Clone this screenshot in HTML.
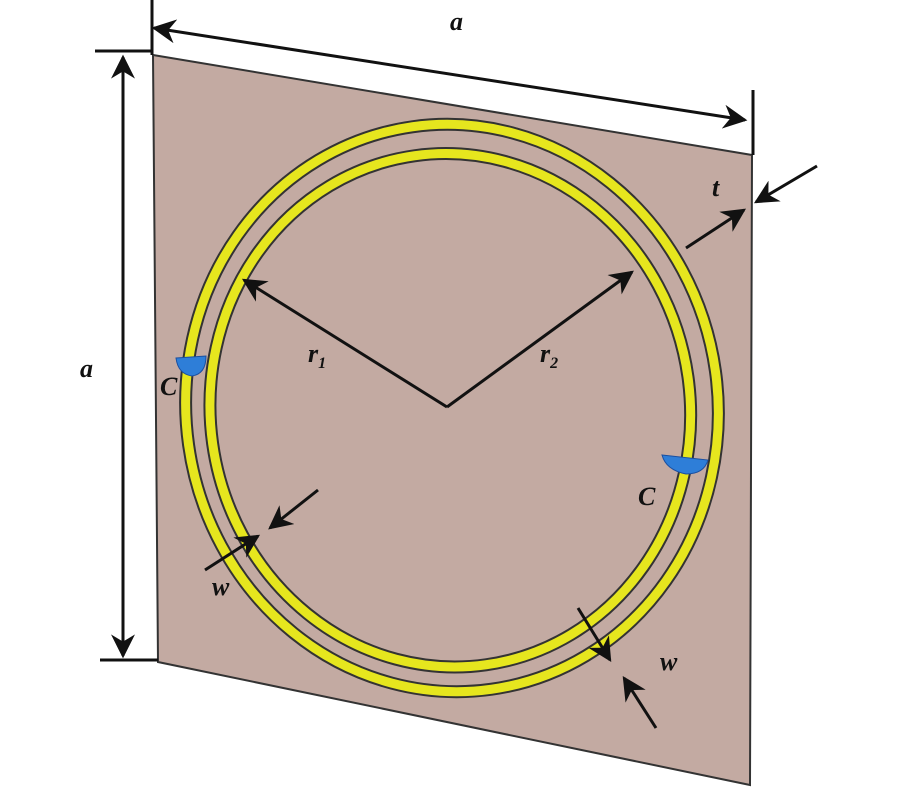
<!DOCTYPE html>
<html><head><style>body{margin:0;background:#fff}svg{display:block}</style></head><body>
<svg width="900" height="800" viewBox="0 0 900 800" xmlns="http://www.w3.org/2000/svg">
<defs><marker id="ah" viewBox="0 0 10 10" refX="9" refY="5" markerWidth="8" markerHeight="8" orient="auto-start-reverse"><path d="M0,0 L10,5 L0,10 L3,5 z" fill="#111"/></marker></defs>
<polygon points="153,55 752,155 750,785 158,662" fill="#c3aaa2" stroke="#333" stroke-width="2"/>
<g transform="rotate(-8 452 408)" fill="none">
<ellipse cx="452" cy="408" rx="266" ry="284" stroke="#333" stroke-width="13"/>
<ellipse cx="452" cy="408" rx="266" ry="284" stroke="#e6e61e" stroke-width="9"/>
<ellipse cx="450" cy="410" rx="240" ry="257" stroke="#333" stroke-width="13"/>
<ellipse cx="450" cy="410" rx="240" ry="257" stroke="#e6e61e" stroke-width="9"/>
</g>
<path d="M176,358 L206,356 Q206,374 192,376 Q178,374 176,358z" fill="#2e7ed8" stroke="#1a4fa0"/>
<path d="M662,455 L708,460 Q704,474 686,474 Q666,470 662,455z" fill="#2e7ed8" stroke="#1a4fa0"/>
<g stroke="#111" stroke-width="3" fill="none">
<line x1="152" y1="0" x2="152" y2="55"/><line x1="753" y1="90" x2="753" y2="155"/>
<line x1="154" y1="28" x2="745" y2="120" marker-start="url(#ah)" marker-end="url(#ah)"/>
<line x1="95" y1="51" x2="153" y2="51"/><line x1="100" y1="660" x2="158" y2="660"/>
<line x1="123" y1="57" x2="123" y2="656" marker-start="url(#ah)" marker-end="url(#ah)"/>
<line x1="817" y1="166" x2="756" y2="202" marker-end="url(#ah)"/>
<line x1="686" y1="248" x2="744" y2="210" marker-end="url(#ah)"/>
<line x1="447" y1="407" x2="244" y2="280" marker-end="url(#ah)"/>
<line x1="447" y1="407" x2="632" y2="272" marker-end="url(#ah)"/>
<line x1="318" y1="490" x2="270" y2="528" marker-end="url(#ah)"/>
<line x1="205" y1="570" x2="258" y2="536" marker-end="url(#ah)"/>
<line x1="578" y1="608" x2="610" y2="660" marker-end="url(#ah)"/>
<line x1="656" y1="728" x2="624" y2="678" marker-end="url(#ah)"/>
</g>
<g font-family="Liberation Serif, serif" font-style="italic" font-weight="bold" font-size="26" fill="#111">
<text x="450" y="30">a</text><text x="80" y="377">a</text><text x="712" y="196">t</text>
<text x="308" y="362">r<tspan font-size="16" dy="6">1</tspan></text>
<text x="540" y="362">r<tspan font-size="16" dy="6">2</tspan></text>
<text x="160" y="395">C</text><text x="638" y="505">C</text>
<text x="212" y="595">w</text><text x="660" y="670">w</text>
</g>
</svg>
</body></html>
